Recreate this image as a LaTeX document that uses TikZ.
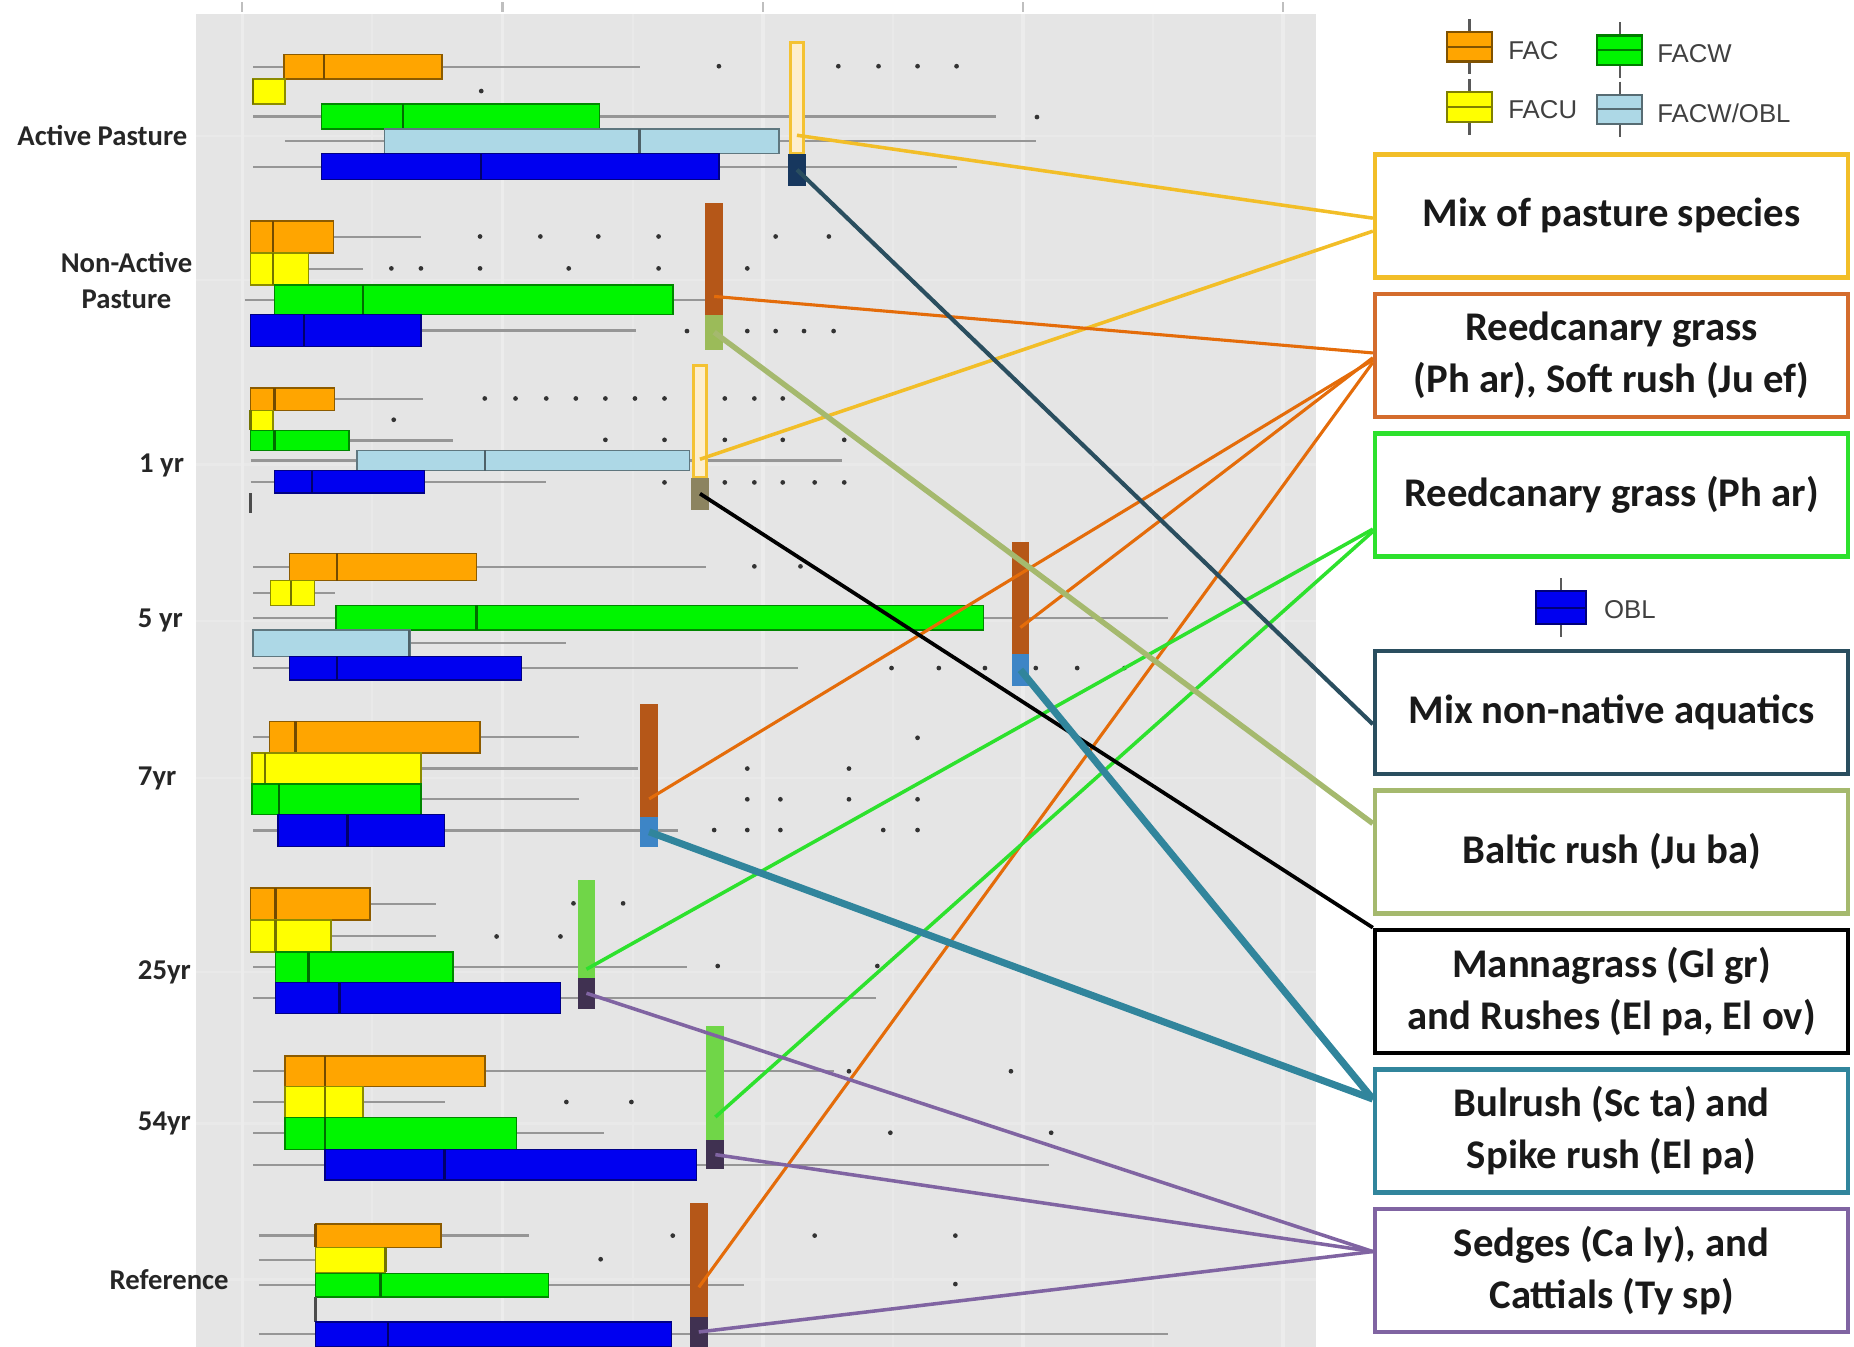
\documentclass[tikz,border=0pt]{standalone}
\usepackage{fontspec}
\setmainfont{Carlito}
\newfontfamily\legfont{Liberation Sans}
\usepackage{tikz}

\definecolor{panel}{RGB}{229,229,229}
\definecolor{gridc}{RGB}{236,236,236}
\definecolor{whiskc}{RGB}{150,150,150}
\definecolor{cFAC}{RGB}{255,165,0}
\definecolor{cFACU}{RGB}{255,255,0}
\definecolor{cFACW}{RGB}{0,245,0}
\definecolor{cFOBL}{RGB}{173,216,230}
\definecolor{cOBL}{RGB}{0,0,240}
\definecolor{barGold}{RGB}{244,194,50}
\definecolor{barCream}{RGB}{253,238,205}
\definecolor{barNavy}{RGB}{23,55,94}
\definecolor{barBrown}{RGB}{181,87,24}
\definecolor{barOlive}{RGB}{155,187,89}
\definecolor{barKhaki}{RGB}{140,132,96}
\definecolor{barSteel}{RGB}{61,133,198}
\definecolor{barGreen}{RGB}{112,214,72}
\definecolor{barPurple}{RGB}{64,49,81}
\definecolor{lnGold}{RGB}{242,190,40}
\definecolor{lnOrange}{RGB}{228,108,10}
\definecolor{lnBrick}{RGB}{212,108,45}
\definecolor{lnGreen}{RGB}{45,225,45}
\definecolor{lnSlate}{RGB}{42,78,95}
\definecolor{lnOlive}{RGB}{165,185,110}
\definecolor{lnTeal}{RGB}{49,133,156}
\definecolor{lnPurple}{RGB}{128,100,162}

\tikzstyle{sbox} = [rectangle, fill=white, minimum width=40mm, minimum height=10.4mm, align=center, line width=1.1pt, text=black!90, font=\bfseries\fontsize{9.8}{12.5}\selectfont]
\tikzstyle{hbar} = [rectangle, inner sep=0pt, minimum width=1.5mm]
\tikzstyle{grp} = [inner sep=0pt, align=center, text=black!85, font=\bfseries\fontsize{6.9}{8.6}\selectfont]
\tikzstyle{leg} = [inner sep=0pt, anchor=west, text=black!75, font=\legfont\fontsize{6.2}{7}\selectfont]
\tikzstyle{whisk} = [whiskc, line width=0.55pt]
\tikzstyle{goldlink} = [lnGold, line width=0.85pt]
\tikzstyle{orangelink} = [lnOrange, line width=0.75pt]
\tikzstyle{greenlink} = [lnGreen, line width=0.85pt]
\tikzstyle{slatelink} = [lnSlate, line width=1pt]
\tikzstyle{olivelink} = [lnOlive, line width=1.3pt]
\tikzstyle{blacklink} = [black, line width=0.9pt]
\tikzstyle{teallink} = [lnTeal, line width=1.7pt]
\tikzstyle{purplelink} = [lnPurple, line width=0.85pt]

% top, bottom, whisker low, q1, median, q3, whisker high, colour
\newcommand{\boxrow}[8]{%
  \draw[whisk] (#3,{(#1+#2)/2}) -- (#7,{(#1+#2)/2});
  \filldraw[fill=#8, draw=#8!55!black, line width=0.35pt] (#4,#1) rectangle (#6,#2);
  \draw[#8!45!black, line width=0.6pt] (#5,#1) -- (#5,#2);}
\newcommand{\outliers}[2]{\foreach \ox in {#2} {\fill[black!80] (\ox,#1) circle[radius=0.2mm];}}
% centre x, top, bottom, colour, half width
\newcommand{\legicon}[5]{%
  \draw[black!65, line width=0.6pt] (#1,#2-11) -- (#1,#3+11);
  \filldraw[fill=#4, draw=#4!50!black, line width=0.5pt] (#1-#5,#2) rectangle (#1+#5,#3);
  \draw[#4!50!black, line width=0.5pt] (#1-#5,{(#2+#3)/2}) -- (#1+#5,{(#2+#3)/2});}

\begin{document}
\begin{tikzpicture}[x=0.1mm, y=-0.1mm, node distance=11.8mm]
\useasboundingbox (0,0) rectangle (1568,1139);

% panel
\fill[panel] (166,12) rectangle (1113,1139);
\foreach \gx in {315,535,755,975} \draw[gridc!50!panel, line width=0.5pt] (\gx,12) -- (\gx,1139);
\foreach \gy in {115,237,393,525,658,822,950,1082} \draw[gridc!50!panel, line width=0.6pt] (166,\gy) -- (1113,\gy);
\foreach \gx in {205,425,645,865,1085} {
  \draw[gridc, line width=0.9pt] (\gx,12) -- (\gx,1139);
  \draw[black!25, line width=0.5pt] (\gx,2) -- (\gx,10);}

% Active Pasture
\boxrow{46}{67}{214}{240}{274}{374}{541}{cFAC}
\boxrow{67}{88}{214}{214}{214}{241}{241}{cFACU}
\boxrow{88}{109}{214}{272}{341}{507}{842}{cFACW}
\boxrow{109}{130}{241}{325}{541}{659}{876}{cFOBL}
\boxrow{130}{152}{214}{272}{407}{608}{809}{cOBL}
\outliers{56}{608,709,743,776,809}
\outliers{77}{407}
\outliers{99}{877}

% Non-Active Pasture
\boxrow{187}{214}{212}{212}{231}{282}{356}{cFAC}
\boxrow{214}{241}{212}{212}{231}{261}{307}{cFACU}
\boxrow{241}{266}{207}{232}{307}{569}{599}{cFACW}
\boxrow{266}{293}{212}{212}{257}{356}{538}{cOBL}
\outliers{200}{406,457,506,557,656,701}
\outliers{227}{331,356,406,481,557,632}
\outliers{280}{581,632,656,680,705}

% 1 yr
\boxrow{328}{347}{212}{212}{232}{283}{358}{cFAC}
\boxrow{347}{364}{212}{212}{212}{231}{231}{cFACU}
\boxrow{364}{381}{212}{212}{232}{295}{383}{cFACW}
\boxrow{381}{398}{212}{302}{410}{583}{712}{cFOBL}
\boxrow{398}{417}{212}{232}{264}{359}{462}{cOBL}
\draw[black!70, line width=0.6pt] (212,417) -- (212,434);
\outliers{337}{410,436,462,487,512,537,562,613,638,662}
\outliers{355}{333}
\outliers{372}{512,562,613,662,714}
\outliers{408}{562,613,638,662,689,714}

% 5 yr
\boxrow{468}{491}{214}{245}{285}{403}{597}{cFAC}
\boxrow{491}{512}{214}{229}{246}{266}{283}{cFACU}
\boxrow{512}{533}{214}{284}{403}{832}{988}{cFACW}
\boxrow{533}{555}{214}{214}{346}{347}{479}{cFOBL}
\boxrow{555}{575}{214}{245}{285}{441}{675}{cOBL}
\outliers{479}{638,677}
\outliers{565}{754,794,833,876,911,951}

% 7yr
\boxrow{610}{637}{214}{228}{250}{406}{490}{cFAC}
\boxrow{637}{663}{213}{213}{224}{356}{540}{cFACU}
\boxrow{663}{689}{213}{213}{236}{356}{490}{cFACW}
\boxrow{689}{716}{214}{235}{294}{376}{573}{cOBL}
\outliers{624}{776}
\outliers{650}{632,718}
\outliers{676}{632,660,718,776}
\outliers{702}{604,632,660,747,776}

% 25yr
\boxrow{751}{778}{212}{212}{233}{313}{369}{cFAC}
\boxrow{778}{805}{212}{212}{233}{280}{369}{cFACU}
\boxrow{805}{831}{214}{233}{261}{383}{581}{cFACW}
\boxrow{831}{857}{214}{233}{287}{474}{741}{cOBL}
\outliers{764}{485,527}
\outliers{792}{420,474}
\outliers{817}{607,742}

% 54yr
\boxrow{893}{919}{214}{241}{275}{410}{705}{cFAC}
\boxrow{919}{945}{214}{241}{275}{307}{376}{cFACU}
\boxrow{945}{972}{214}{241}{275}{437}{511}{cFACW}
\boxrow{972}{998}{214}{275}{376}{589}{887}{cOBL}
\outliers{906}{718,855}
\outliers{932}{479,534}
\outliers{958}{753,889}

% Reference
\boxrow{1035}{1055}{219}{267}{267}{373}{447}{cFAC}
\boxrow{1055}{1076}{219}{267}{326}{326}{326}{cFACU}
\boxrow{1077}{1097}{219}{267}{322}{464}{629}{cFACW}
\draw[black!70, line width=0.6pt] (267,1097) -- (267,1118);
\boxrow{1118}{1139}{219}{267}{328}{568}{988}{cOBL}
\outliers{1045}{569,689,808}
\outliers{1065}{508}
\outliers{1086}{808}

% highlighted species bars
\node (apTop) [hbar, minimum width=1.1mm, fill=barCream, draw=barGold, line width=0.8pt, minimum height=9.4mm] at (674,83) {};
\node (apBot) [hbar, fill=barNavy, minimum height=2.7mm] at (674,143.5) {};
\node (npTop) [hbar, fill=barBrown, minimum height=9.4mm] at (604,219) {};
\node (npBot) [hbar, fill=barOlive, minimum height=3mm] at (604,281) {};
\node (oyTop) [hbar, minimum width=1.1mm, fill=barCream, draw=barGold, line width=0.8pt, minimum height=9.5mm] at (592,356.5) {};
\node (oyBot) [hbar, fill=barKhaki, minimum height=2.7mm] at (592,417.5) {};
\node (fyTop) [hbar, fill=barBrown, minimum height=9.5mm] at (863,505.5) {};
\node (fyBot) [hbar, fill=barSteel, minimum height=2.7mm] at (863,566.5) {};
\node (syTop) [hbar, fill=barBrown, minimum height=9.6mm] at (549,643) {};
\node (syBot) [hbar, fill=barSteel, minimum height=2.5mm] at (549,703.5) {};
\node (tfTop) [hbar, fill=barGreen, minimum height=8.3mm] at (496,785.5) {};
\node (tfBot) [hbar, fill=barPurple, minimum height=2.6mm] at (496,840) {};
\node (ffTop) [hbar, fill=barGreen, minimum height=9.6mm] at (605,916) {};
\node (ffBot) [hbar, fill=barPurple, minimum height=2.5mm] at (605,976.5) {};
\node (rfTop) [hbar, fill=barBrown, minimum height=9.7mm] at (591,1065.5) {};
\node (rfBot) [hbar, fill=barPurple, minimum height=2.5mm] at (591,1126.5) {};

% group labels
\node (lbAP) [grp, anchor=west] at (14,115) {Active Pasture};
\node (lbNAP) [grp] at (107,237) {Non-Active\\Pasture};
\node (lbOne) [grp, anchor=west] at (117,394) {1 yr};
\node (lbFive) [grp, anchor=west] at (116,525) {5 yr};
\node (lbSeven) [grp, anchor=west] at (116,658) {7yr};
\node (lbTwentyFive) [grp, anchor=west] at (116,822) {25yr};
\node (lbFiftyFour) [grp, anchor=west] at (116,950) {54yr};
\node (lbRef) [grp, anchor=west] at (92,1082) {Reference};

% legend
\legicon{1243}{27}{52}{cFAC}{19}
\node (lgFAC) [leg] at (1275,43) {FAC};
\legicon{1370}{30}{55}{cFACW}{19}
\node (lgFACW) [leg] at (1401,45) {FACW};
\legicon{1243}{78}{103}{cFACU}{19}
\node (lgFACU) [leg] at (1275,93) {FACU};
\legicon{1370}{80}{105}{cFOBL}{19}
\node (lgFOBL) [leg] at (1401,96) {FACW/OBL};
\legicon{1320}{500}{528}{cOBL}{21}
\node (lgOBL) [leg] at (1356,516) {OBL};

% species boxes
\node (mix) [sbox, draw=lnGold] at (1363,182.5) {Mix of pasture species};
\node (reedsoft) [sbox, draw=lnBrick, below of=mix] {Reedcanary grass\\(Ph ar), Soft rush (Ju ef)};
\node (reedph) [sbox, draw=lnGreen, below of=reedsoft] {Reedcanary grass (Ph ar)};
\node (aquatic) [sbox, draw=lnSlate] at (1363,602.5) {Mix non-native aquatics};
\node (baltic) [sbox, draw=lnOlive, below of=aquatic] {Baltic rush (Ju ba)};
\node (manna) [sbox, draw=black, below of=baltic] {Mannagrass (Gl gr)\\and Rushes (El pa, El ov)};
\node (bulrush) [sbox, draw=lnTeal, below of=manna] {Bulrush (Sc ta) and\\Spike rush (El pa)};
\node (sedges) [sbox, draw=lnPurple, below of=bulrush] {Sedges (Ca ly), and\\Cattials (Ty sp)};

% links
\draw [goldlink] ([yshift=1.7mm]apTop.south) -- ([yshift=-0.2mm]mix.west);
\draw [goldlink] ([yshift=1.7mm]oyTop.south) -- ([yshift=-1.3mm]mix.west);
\draw [orangelink] ([yshift=1.6mm]npTop.south) -- ([yshift=0.2mm]reedsoft.west);
\draw [orangelink] ([yshift=2.3mm]fyTop.south) -- ([yshift=-0.2mm]reedsoft.west);
\draw [orangelink] ([yshift=1.6mm]syTop.south) -- ([yshift=-0.4mm]reedsoft.west);
\draw [orangelink] ([yshift=2.6mm]rfTop.south) -- ([yshift=-0.6mm]reedsoft.west);
\draw [greenlink] ([yshift=0.8mm]tfTop.south) -- ([yshift=-2.9mm]reedph.west);
\draw [greenlink] ([yshift=2mm]ffTop.south) -- ([yshift=-3.1mm]reedph.west);
\draw [slatelink] (apBot.center) -- ([yshift=-1mm]aquatic.west);
\draw [olivelink] (npBot.center) -- ([yshift=2.4mm]baltic.west);
\draw [blacklink] (oyBot.center) -- (manna.north west);
\draw [teallink] (fyBot.center) -- ([yshift=2.7mm]bulrush.west);
\draw [teallink] (syBot.center) -- ([yshift=2.7mm]bulrush.west);
\draw [purplelink] (tfBot.center) -- ([yshift=1.6mm]sedges.west);
\draw [purplelink] (ffBot.center) -- ([yshift=1.6mm]sedges.west);
\draw [purplelink] (rfBot.center) -- ([yshift=1.6mm]sedges.west);
\end{tikzpicture}
\end{document}
